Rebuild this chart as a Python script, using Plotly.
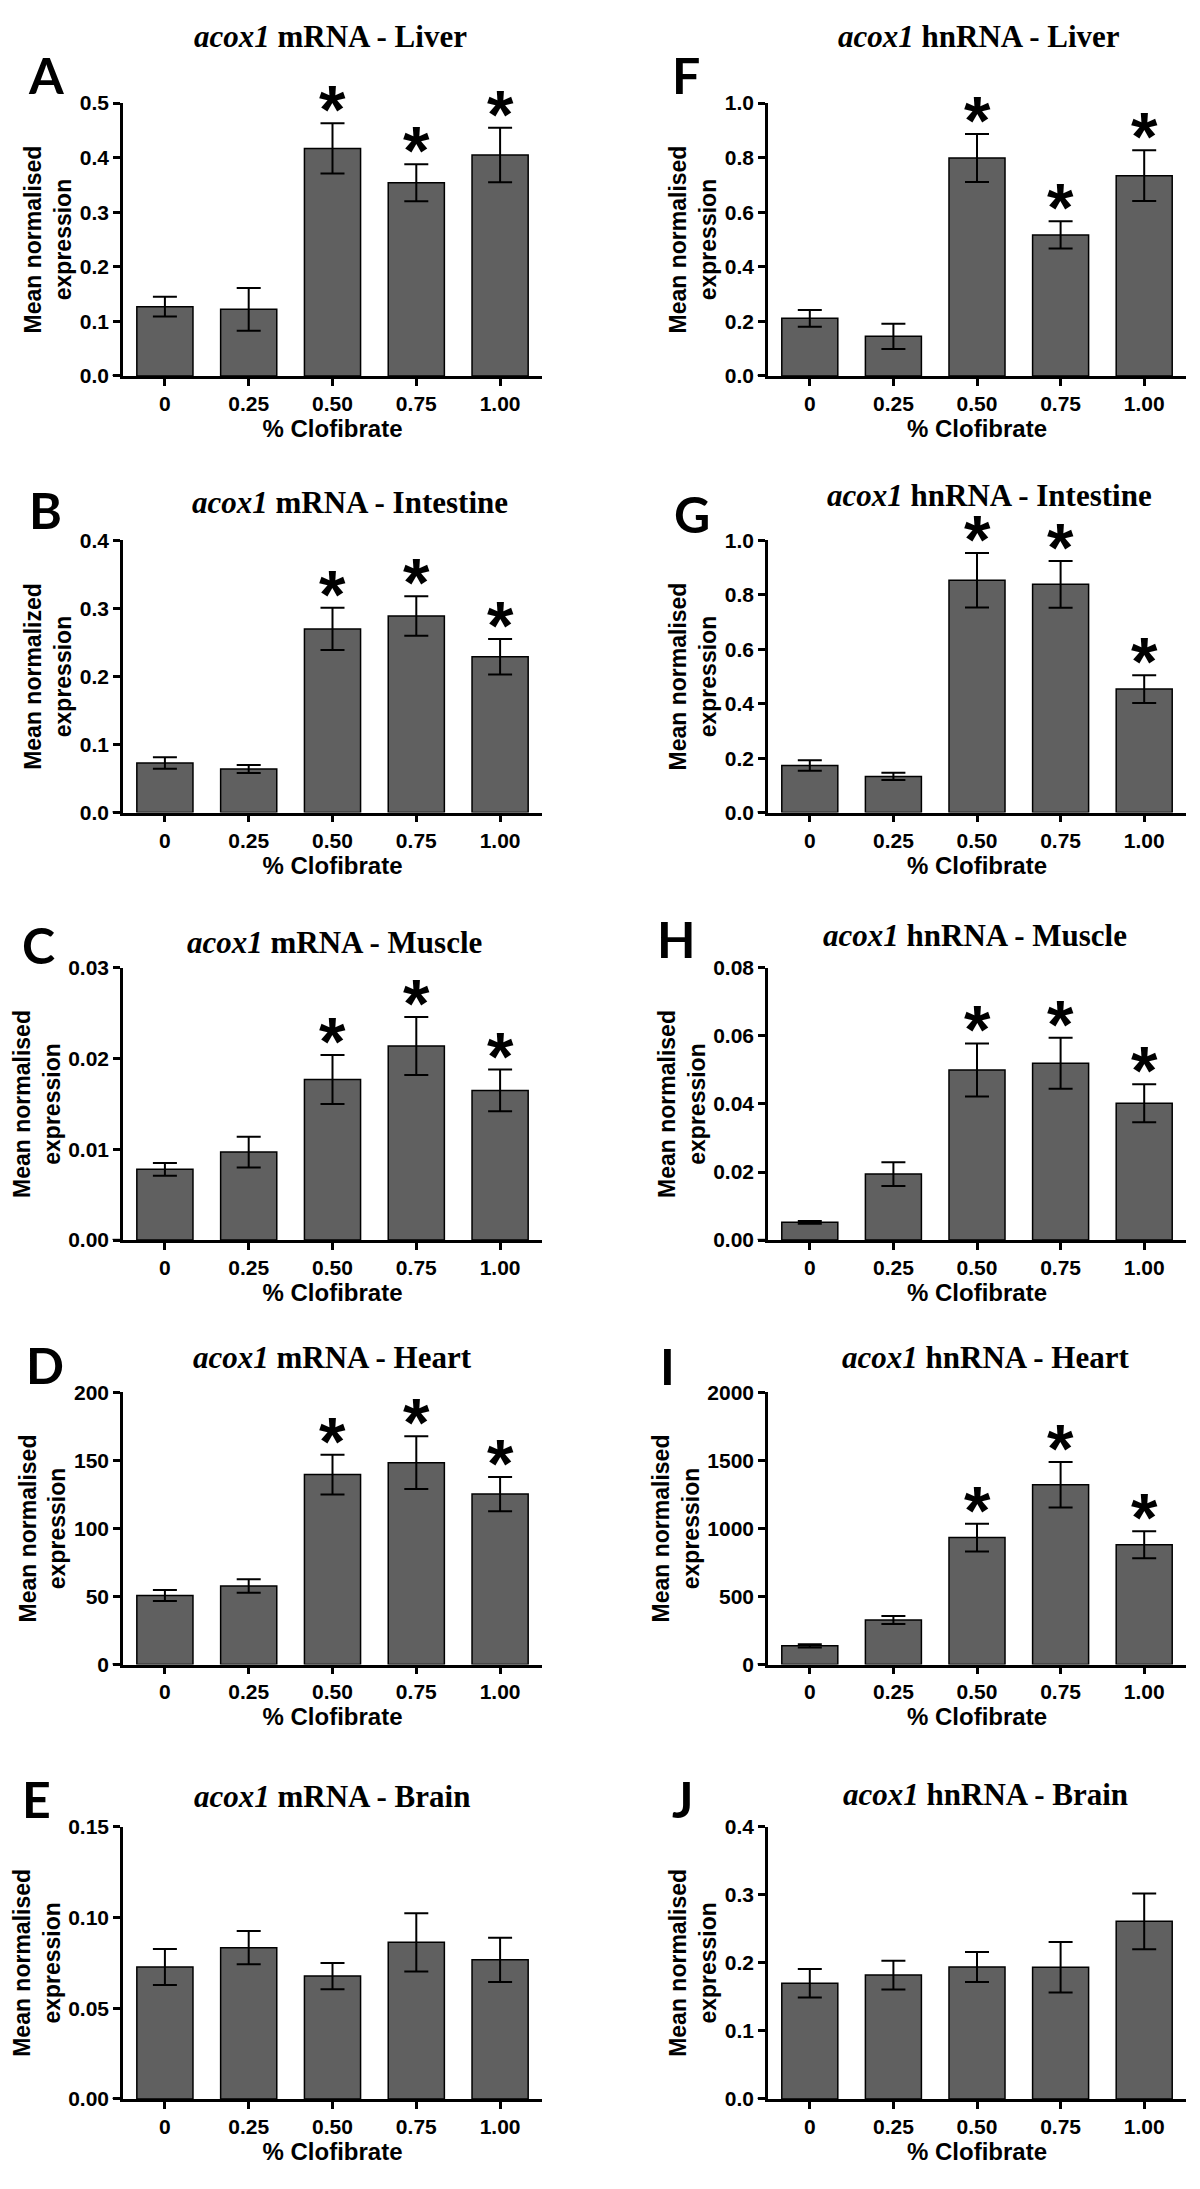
import plotly.graph_objects as go

# % clofibrate groups
conc = ["0", "0.25", "0.50", "0.75", "1.00"]

# left column: mRNA
liver_mrna = [0.127, 0.122, 0.417, 0.354, 0.405]
liver_mrna_sem = [0.018, 0.039, 0.046, 0.034, 0.050]
intestine_mrna = [0.073, 0.064, 0.270, 0.289, 0.229]
intestine_mrna_sem = [0.0085, 0.006, 0.031, 0.029, 0.026]
muscle_mrna = [0.0078, 0.0097, 0.0177, 0.0214, 0.0165]
muscle_mrna_sem = [0.0007, 0.0017, 0.0027, 0.0032, 0.0023]
heart_mrna = [50.7, 57.7, 139.6, 148.4, 125.3]
heart_mrna_sem = [4, 5, 14.6, 19.4, 12.6]
brain_mrna = [0.0727, 0.0834, 0.0677, 0.0863, 0.0767]
brain_mrna_sem = [0.0099, 0.0092, 0.0072, 0.016, 0.0122]

# right column: hnRNA
liver_hnrna = [0.211, 0.145, 0.799, 0.517, 0.734]
liver_hnrna_sem = [0.031, 0.046, 0.088, 0.050, 0.093]
intestine_hnrna = [0.173, 0.133, 0.854, 0.839, 0.454]
intestine_hnrna_sem = [0.019, 0.013, 0.10, 0.086, 0.051]
muscle_hnrna = [0.0052, 0.0194, 0.0500, 0.0520, 0.0402]
muscle_hnrna_sem = [0.0004, 0.0035, 0.0078, 0.0075, 0.0056]
heart_hnrna = [138, 327, 933, 1321, 880]
heart_hnrna_sem = [12, 29, 102, 167, 99]
brain_hnrna = [0.170, 0.182, 0.194, 0.1935, 0.261]
brain_hnrna_sem = [0.021, 0.021, 0.022, 0.037, 0.041]

# significance markers (1 = asterisk)
sig_all = [0, 0, 1, 1, 1]
sig_none = [0, 0, 0, 0, 0]

ylabel = "Mean normalised<br>expression"

panels = [
    # letter, title, mean, sem, sig, ymax, dtick, fmt, ylabel
    ("A", "<i>acox1</i> mRNA - Liver", liver_mrna, liver_mrna_sem, sig_all, 0.5, 0.1, ".1f", ylabel),
    ("B", "<i>acox1</i> mRNA - Intestine", intestine_mrna, intestine_mrna_sem, sig_all, 0.4, 0.1, ".1f",
     "Mean normalized<br>expression"),
    ("C", "<i>acox1</i> mRNA - Muscle", muscle_mrna, muscle_mrna_sem, sig_all, 0.03, 0.01, ".2f", ylabel),
    ("D", "<i>acox1</i> mRNA - Heart", heart_mrna, heart_mrna_sem, sig_all, 200, 50, "d", ylabel),
    ("E", "<i>acox1</i> mRNA - Brain", brain_mrna, brain_mrna_sem, sig_none, 0.15, 0.05, ".2f", ylabel),
    ("F", "<i>acox1</i> hnRNA - Liver", liver_hnrna, liver_hnrna_sem, sig_all, 1.0, 0.2, ".1f", ylabel),
    ("G", "<i>acox1</i> hnRNA - Intestine", intestine_hnrna, intestine_hnrna_sem, sig_all, 1.0, 0.2, ".1f", ylabel),
    ("H", "<i>acox1</i> hnRNA - Muscle", muscle_hnrna, muscle_hnrna_sem, sig_all, 0.08, 0.02, ".2f", ylabel),
    ("I", "<i>acox1</i> hnRNA - Heart", heart_hnrna, heart_hnrna_sem, sig_all, 2000, 500, "d", ylabel),
    ("J", "<i>acox1</i> hnRNA - Brain", brain_hnrna, brain_hnrna_sem, sig_none, 0.4, 0.1, ".1f", ylabel),
]

W, H = 1200, 2189
dx = -9
dy = [-16, -12.5, -8, -3, 0]
# plot area rows in pixels (top, bottom)
rows_px = [(100, 375.7), (538.5, 813.5), (966, 1241), (1390, 1665), (1826, 2101)]
cols_px = [(124, 543), (769, 1187)]
title_x = [[331, 351, 335, 333, 333], [980, 990, 976, 986, 986]]
title_y = [[33, 500, 940, 1355, 1795], [33, 493, 933, 1355, 1793]]
letter_x = [[47, 46, 39, 46, 37], [687, 693, 677, 668, 683]]
letter_y = [[72, 508, 943, 1362, 1798], [72, 512, 937, 1363, 1798]]

bar_color = "#606060"
sans = "Liberation Sans, Arial, sans-serif"
serif = "Liberation Serif, Times New Roman, serif"

fig = go.Figure()
annotations = []
shapes = []

for i, (letter, title, mean, sem, sig, ymax, dtick, fmt, ytitle) in enumerate(panels):
    col = i // 5
    row = i % 5
    n = i + 1
    xa = "x" if n == 1 else f"x{n}"
    ya = "y" if n == 1 else f"y{n}"
    top, bot = rows_px[row][0] + dy[row], rows_px[row][1] + dy[row]
    left, right = cols_px[col][0] + dx, cols_px[col][1] + dx

    fig.add_trace(go.Bar(
        x=conc, y=mean, xaxis=xa, yaxis=ya,
        marker=dict(color=bar_color, line=dict(color="black", width=1.5)),
        error_y=dict(type="data", array=sem, visible=True, color="black", thickness=2, width=12),
        showlegend=False,
    ))

    axis_common = dict(showline=True, linecolor="black", linewidth=2.5,
                       ticks="outside", ticklen=7, tickwidth=2.5, tickcolor="black",
                       showgrid=False, zeroline=False,
                       tickfont=dict(family=sans, size=21, color="black", weight="bold"))
    fig.layout[f"xaxis{'' if n == 1 else n}"] = dict(
        axis_common, domain=[left / W, right / W], anchor=ya, type="category",
        range=[-0.5, 4.5],
        title=dict(text="% Clofibrate", standoff=4,
                   font=dict(family=sans, size=24, color="black", weight="bold")),
    )
    fig.layout[f"yaxis{'' if n == 1 else n}"] = dict(
        axis_common, domain=[1 - bot / H, 1 - top / H], anchor=xa,
        range=[0, ymax], tick0=0, dtick=dtick, tickformat=fmt,
        title=dict(text=ytitle, standoff=2,
                   font=dict(family=sans, size=23, color="black", weight="bold")),
    )

    # short stub of the x axis line left of the y axis
    shapes.append(dict(type="line", xref=f"{xa} domain", yref=ya, x0=-0.025, x1=0, y0=0, y1=0,
                       line=dict(color="black", width=2.5)))

    # panel title and letter
    annotations.append(dict(text=title, x=(title_x[col][row] + dx) / W,
                            y=1 - (title_y[col][row] + dy[row]) / H,
                            xref="paper", yref="paper", showarrow=False,
                            xanchor="center", yanchor="middle",
                            font=dict(family=serif, size=31, color="black", weight="bold")))
    annotations.append(dict(text=letter, x=(letter_x[col][row] + dx) / W,
                            y=1 - (letter_y[col][row] + dy[row]) / H,
                            xref="paper", yref="paper", showarrow=False,
                            xanchor="center", yanchor="middle",
                            font=dict(family="Lato, Open Sans, sans-serif", size=50, color="black",
                                      weight="bold")))

    # asterisks above significant bars
    for k, (m, s, flag) in enumerate(zip(mean, sem, sig)):
        if flag:
            annotations.append(dict(text="*", x=k, y=m + s, xref=xa, yref=ya, showarrow=False,
                                    xanchor="center", yanchor="bottom", yshift=-26,
                                    font=dict(family=sans, size=68, color="black", weight="bold")))

fig.update_layout(
    width=W, height=H,
    margin=dict(l=0, r=0, t=0, b=0),
    plot_bgcolor="white", paper_bgcolor="white",
    bargap=0.33,
    annotations=annotations,
    shapes=shapes,
)

fig.write_html("out.html")
